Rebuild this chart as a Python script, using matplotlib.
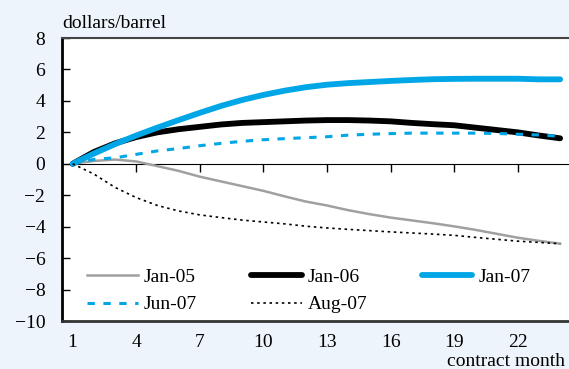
import matplotlib
matplotlib.use('Agg')
import matplotlib.pyplot as plt

# contract months and term-structure curves (dollars/barrel, relative to front month)
months = list(range(1, 25))
jan05 = [0, 0.18, 0.27, 0.15, -0.15, -0.45, -0.82, -1.12, -1.42, -1.72, -2.07, -2.4,
         -2.65, -2.95, -3.2, -3.42, -3.6, -3.78, -3.98, -4.2, -4.45, -4.7, -4.9, -5.08]
jan06 = [0, 0.75, 1.3, 1.7, 2.0, 2.2, 2.35, 2.5, 2.6, 2.65, 2.7, 2.75,
         2.78, 2.78, 2.75, 2.7, 2.6, 2.52, 2.45, 2.3, 2.15, 2.0, 1.8, 1.62]
jan07 = [0, 0.65, 1.25, 1.8, 2.3, 2.78, 3.24, 3.68, 4.06, 4.38, 4.65, 4.87,
         5.03, 5.13, 5.2, 5.27, 5.33, 5.38, 5.4, 5.41, 5.41, 5.41, 5.37, 5.37]
jun07 = [0, 0.28, 0.38, 0.6, 0.82, 0.97, 1.15, 1.3, 1.43, 1.53, 1.6, 1.66,
         1.72, 1.82, 1.88, 1.92, 1.95, 1.95, 1.95, 1.95, 1.93, 1.88, 1.83, 1.75]
aug07 = [0, -0.65, -1.5, -2.15, -2.65, -3.0, -3.25, -3.42, -3.58, -3.7, -3.82, -3.97,
         -4.08, -4.17, -4.25, -4.33, -4.4, -4.47, -4.55, -4.68, -4.8, -4.92, -5.0, -5.08]

xticks = [1, 4, 7, 10, 13, 16, 19, 22]
yticks = [8, 6, 4, 2, 0, -2, -4, -6, -8, -10]

BLUE = '#00a6e6'
GRAY = '#a0a0a0'
BG = '#eef4fb'
FS = 14

plt.rcParams['font.family'] = ['Liberation Serif', 'DejaVu Serif']
plt.rcParams['axes.unicode_minus'] = True

fig = plt.figure(figsize=(5.69, 3.69), dpi=100, facecolor=BG)
ax = fig.add_axes([0.109, 0.130, 0.894, 0.767])
ax.set_facecolor('white')

l1, = ax.plot(months, jan05, color=GRAY, lw=1.8, label='Jan-05')
l2, = ax.plot(months, jan06, color='black', lw=4.2, solid_capstyle='round', label='Jan-06')
l3, = ax.plot(months, jan07, color=BLUE, lw=4.2, solid_capstyle='round', label='Jan-07')
l4, = ax.plot(months, jun07, color=BLUE, lw=2.2, linestyle=(0, (2.4, 2.8)), label='Jun-07')
l5, = ax.plot(months, aug07, color='black', lw=1.2, linestyle=(0, (1.5, 2.2)), label='Aug-07')

ax.set_xlim(0.5, 24.5)
ax.set_ylim(-10, 8)
ax.set_yticks(yticks)
ax.set_xticks(xticks)
ax.tick_params(axis='y', direction='in', length=6, width=1, pad=12, labelsize=FS)
ax.tick_params(axis='x', length=0, pad=9, labelsize=FS)

ax.spines['right'].set_visible(False)
ax.spines['left'].set_linewidth(2)
ax.spines['bottom'].set_linewidth(2)
ax.spines['bottom'].set_color('#333333')
ax.spines['top'].set_linewidth(1.5)
ax.spines['top'].set_color('#444444')

# zero line with upward ticks
zero = ax.secondary_xaxis(10 / 18)
zero.set_xticks(xticks[1:])
zero.tick_params(direction='in', length=6, width=1, labelbottom=False, labeltop=False)
zero.spines['bottom'].set_linewidth(1.2)

# legend rows: Jan-05 Jan-06 Jan-07 / Jun-07 Aug-07
ax.legend([l1, l4, l2, l5, l3], ['Jan-05', 'Jun-07', 'Jan-06', 'Aug-07', 'Jan-07'],
          ncol=3, frameon=False, loc='lower left', bbox_to_anchor=(0.015, -0.035),
          fontsize=FS, handlelength=2.6, handletextpad=0.3, columnspacing=2.8,
          labelspacing=0.5)

fig.text(0.109, 0.935, 'dollars/barrel', fontsize=FS, ha='left', va='center')
fig.text(0.786, 0.02, 'contract month', fontsize=FS, ha='left', va='center')

fig.savefig('out.png', dpi=100, facecolor=BG)
